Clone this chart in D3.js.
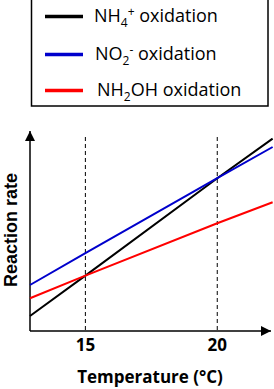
<!DOCTYPE html>
<html><head><meta charset="utf-8">
<script src="https://cdn.jsdelivr.net/npm/d3@7"></script>
<style>body{margin:0;background:#fff}svg{display:block}</style>
</head><body>
<svg id="c" width="274" height="389"></svg>
<script>
const temps = [12.9, 15, 20, 22.1];
const nh4 = [0.75, 2.77, 7.64, 9.62];
const no2 = [2.3, 3.89, 7.64, 9.2];
const nh2oh = [1.64, 2.77, 5.39, 6.44];
const xTicks = [15, 20];
const seriesNames = ["NH4+ oxidation", "NO2- oxidation", "NH2OH oxidation"];
const colors = ["#000000", "#0000cc", "#ff0000"];

const svg = d3.select("#c");
const font = "'Open Sans', sans-serif";
const x = d3.scaleLinear().domain([12.9, 22.0]).range([30, 270]);
const y = d3.scaleLinear().domain([0, 10]).range([331, 131]);

// legend
svg.append("rect").attr("x", 31.5).attr("y", -1).attr("width", 236.5).attr("height", 107)
  .attr("fill", "none").attr("stroke", "#000").attr("stroke-width", 1.5);
const legY = [16.5, 54.5, 90.5];
const legX = [94, 95, 97];
const legText = [
  [["NH", 0], ["4", 1], ["+", 2], [" oxidation", 3]],
  [["NO", 0], ["2", 1], ["-", 2], [" oxidation", 3]],
  [["NH", 0], ["2", 1], ["OH oxidation", 4]]
];
legY.forEach((ly, i) => {
  svg.append("line").attr("x1", 45).attr("x2", 83).attr("y1", ly).attr("y2", ly)
    .attr("stroke", colors[i]).attr("stroke-width", 3.5);
  const t = svg.append("text").attr("x", legX[i]).attr("y", ly + 5.5)
    .attr("font-family", font).attr("font-size", 18).attr("fill", "#000");
  legText[i].forEach(([s, k]) => {
    const ts = t.append("tspan").text(s);
    if (k === 1) ts.attr("font-size", 12).attr("dy", 4.5);
    if (k === 2) ts.attr("font-size", 12).attr("dy", -11);
    if (k === 3) ts.attr("dy", 6.5);
    if (k === 4) ts.attr("dy", -4.5);
  });
});

// dashed lines
xTicks.forEach(v => {
  svg.append("line").attr("x1", x(v)).attr("x2", x(v)).attr("y1", 137).attr("y2", y(0))
    .attr("stroke", "#000").attr("stroke-width", 1).attr("stroke-dasharray", "4,3");
});

// axes with arrows
svg.append("defs").append("marker").attr("id", "arr").attr("viewBox", "0 0 10 10")
  .attr("refX", 10).attr("refY", 5).attr("markerWidth", 10).attr("markerHeight", 10)
  .attr("markerUnits", "userSpaceOnUse").attr("orient", "auto")
  .append("path").attr("d", "M0,0L10,5L0,10z").attr("fill", "#000");
svg.append("line").attr("x1", x(12.9)).attr("x2", x(12.9)).attr("y1", y(0)).attr("y2", 131)
  .attr("stroke", "#000").attr("stroke-width", 1.5).attr("marker-end", "url(#arr)");
svg.append("line").attr("x1", x(12.9)).attr("x2", 271).attr("y1", y(0)).attr("y2", y(0))
  .attr("stroke", "#000").attr("stroke-width", 1.5).attr("marker-end", "url(#arr)");

// series
const line = d3.line().x((d, i) => x(temps[i])).y(d => y(d));
[nh4, no2, nh2oh].forEach((s, i) => {
  svg.append("path").attr("d", line(s)).attr("fill", "none")
    .attr("stroke", colors[i]).attr("stroke-width", 2);
});

// tick labels
xTicks.forEach(v => {
  svg.append("text").attr("x", x(v)).attr("y", 351).attr("text-anchor", "middle")
    .attr("font-family", font).attr("font-weight", "bold").attr("font-size", 17).text(v);
});
svg.append("text").attr("x", 150).attr("y", 383).attr("text-anchor", "middle")
  .attr("font-family", font).attr("font-weight", "bold").attr("font-size", 17).text("Temperature (°C)");
svg.append("text").attr("transform", "translate(16.8,230) rotate(-90)").attr("text-anchor", "middle")
  .attr("font-family", "'Liberation Sans', Arial, sans-serif").attr("font-weight", "bold")
  .attr("font-size", 18).text("Reaction rate");
</script>
</body></html>
